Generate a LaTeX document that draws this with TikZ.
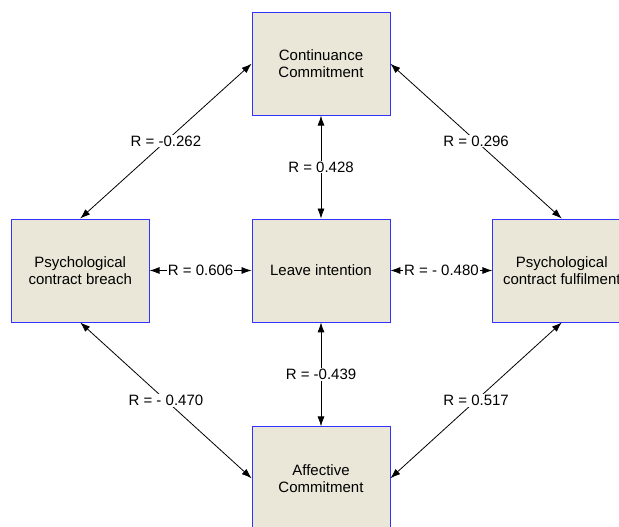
\documentclass[tikz,border=0pt]{standalone}
\usepackage{fontspec}
\setmainfont{Liberation Sans}
\usetikzlibrary{arrows.meta,positioning}
\definecolor{boxfill}{RGB}{234,230,216}
\definecolor{boxline}{RGB}{50,50,255}

\begin{document}
\begin{tikzpicture}[x=1pt,y=1pt,
    factor/.style={draw=boxline, fill=boxfill, line width=0.8pt, minimum width=138pt,
        minimum height=103pt, align=center, inner sep=2pt, font=\fontsize{15}{17}\selectfont},
    link/.style={{Latex[length=10pt,width=7pt]}-{Latex[length=10pt,width=7pt]}, line width=0.8pt},
    corr/.style={fill=white, inner sep=1pt, font=\fontsize{15}{17}\selectfont}]
    \clip (-321,-256.5) rectangle (298,270.5);

    % Factors
    \node[factor] (leave) at (0,0) {Leave intention};
    \node[factor, above=103pt of leave] (cont) {Continuance\\Commitment};
    \node[factor, below=104pt of leave] (aff) {Affective\\Commitment};
    \node[factor, left=102pt of leave] (breach) {Psychological\\contract breach};
    \node[factor, right=102pt of leave] (fulfil) {Psychological\\contract fulfilment};

    % Correlations round the outside
    \draw[link] (cont.west) -- node[corr] {R = -0.262} (breach.north);
    \draw[link] (cont.east) -- node[corr] {R = 0.296} (fulfil.north);
    \draw[link] (breach.south) -- node[corr] {R = - 0.470} (aff.west);
    \draw[link] (fulfil.south) -- node[corr] {R = 0.517} (aff.east);

    % Correlations with leave intention
    \draw[link] (cont) -- node[corr] {R = 0.428} (leave);
    \draw[link] (breach) -- node[corr] {R = 0.606} (leave);
    \draw[link] (leave) -- node[corr] {R = - 0.480} (fulfil);
    \draw[link] (leave) -- node[corr] {R = -0.439} (aff);
\end{tikzpicture}
\end{document}
